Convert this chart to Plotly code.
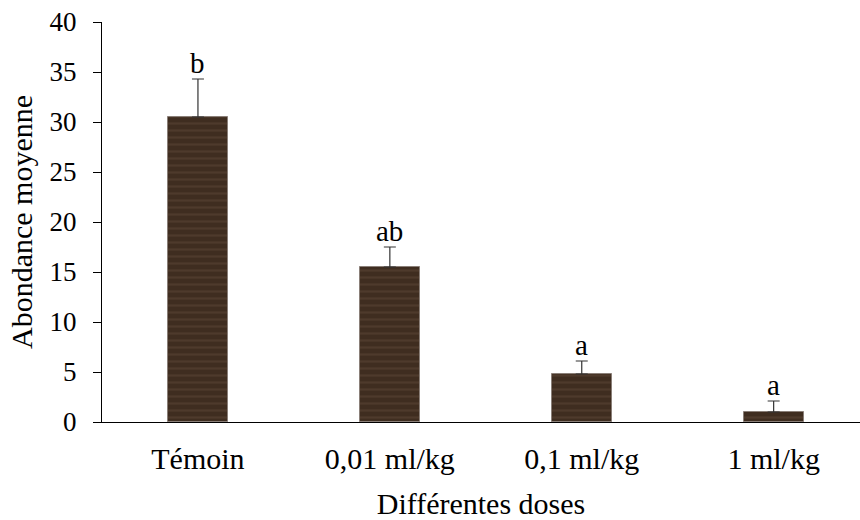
import plotly.graph_objects as go

categories = ["Témoin", "0,01 ml/kg", "0,1 ml/kg", "1 ml/kg"]
means = [30.5, 15.5, 4.8, 1.0]
errors = [3.8, 2.0, 1.3, 1.1]
letters = ["b", "ab", "a", "a"]
y_ticks = [0, 5, 10, 15, 20, 25, 30, 35, 40]

serif = "Liberation Serif"

fig = go.Figure()
fig.add_trace(go.Bar(
    x=categories,
    y=means,
    width=0.3125,
    marker=dict(
        color="#3f2d20",
        line=dict(color="#8a7f78", width=1),
        pattern=dict(shape="-", fgcolor="#5e4837", bgcolor="#3f2d20",
                     size=7, solidity=0.3),
    ),
    error_y=dict(type="data", array=errors, arrayminus=[0] * len(errors),
                 symmetric=False, color="#333333", thickness=1.2, width=6),
    showlegend=False,
))

for c, m, e, t in zip(categories, means, errors, letters):
    fig.add_annotation(x=c, y=m + e, text=t, showarrow=False,
                       yanchor="bottom", yshift=-2,
                       font=dict(family=serif, size=29, color="black"))

fig.update_layout(
    width=860, height=520,
    margin=dict(l=102, r=0, t=22, b=98),
    paper_bgcolor="white", plot_bgcolor="white",
    font=dict(family=serif, color="black"),
    bargap=0,
    xaxis=dict(
        range=[-0.5, 3.45],
        showline=True, linecolor="black", linewidth=1,
        ticks="", showgrid=False,
        tickfont=dict(family=serif, size=30),
        ticklabelstandoff=10,
        title=dict(text="Différentes doses", font=dict(family=serif, size=30), standoff=22),
    ),
    yaxis=dict(
        range=[0, 40],
        tickvals=y_ticks,
        showline=True, linecolor="black", linewidth=1,
        ticks="outside", ticklen=8, tickcolor="black", tickwidth=1,
        showgrid=False, zeroline=False,
        tickfont=dict(family=serif, size=27),
        ticklabelstandoff=11,
        title=dict(text="Abondance moyenne", font=dict(family=serif, size=30), standoff=8),
    ),
)

fig.write_html("out.html")
